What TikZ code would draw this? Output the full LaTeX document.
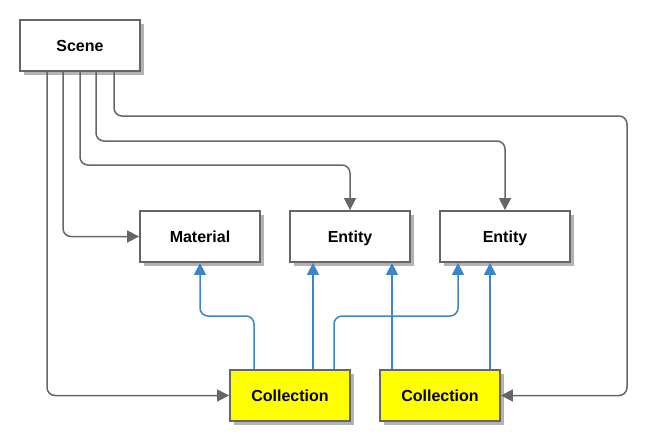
\documentclass[tikz,border=0pt]{standalone}
\usepackage{fontspec}
\setmainfont{Liberation Sans}
\usetikzlibrary{arrows.meta,shadows}
\definecolor{linegray}{HTML}{666666}
\definecolor{shadowgray}{HTML}{B3B3B3}
\definecolor{blueline}{HTML}{3D85C6}
\definecolor{boxyellow}{HTML}{FFFF00}
\tikzset{
  box/.style={draw=linegray, line width=1.8pt, fill=white, minimum width=120pt, minimum height=51pt,
    inner sep=0pt, text height=11.5pt, text depth=0pt, font=\fontsize{16}{19}\selectfont\bfseries,
    drop shadow={shadow xshift=4pt, shadow yshift=-4pt, fill=shadowgray, opacity=1}},
  coll/.style={box, fill=boxyellow},
  grayconn/.style={draw=linegray, line width=1.5pt, rounded corners=8pt,
    -{Triangle[length=12pt,width=12pt]}},
  blueconn/.style={draw=blueline, line width=1.5pt, rounded corners=8pt,
    -{Triangle[length=12pt,width=12pt]}},
}
\begin{document}
\begin{tikzpicture}[x=1pt,y=-1pt]
\useasboundingbox (0,0) rectangle (651,445);
\node[box] (scene) at (80,45.5) {Scene};
\node[box] (mat) at (200,236.5) {Material};
\node[box] (ent1) at (350,236.5) {Entity};
\node[box, minimum width=130pt] (ent2) at (505,236.5) {Entity};
\node[coll] (col1) at (290,395.5) {Collection};
\node[coll] (col2) at (440,395.5) {Collection};
% gray connectors from Scene
\draw[grayconn] (scene.south -| 47,0) |- (col1.west);
\draw[grayconn] (scene.south -| 63,0) |- (mat.west);
\draw[grayconn] (scene.south -| 80,0) |- (350,165) -- (ent1.north);
\draw[grayconn] (scene.south -| 96,0) |- (505,141) -- (ent2.north);
\draw[grayconn] (scene.south -| 114,0) |- (627,116) |- (col2.east);
% blue connectors
\draw[blueconn] (col1.north -| 254,0) |- (200,316) -- (mat.south);
\draw[blueconn] (col1.north -| 313,0) -- (ent1.south -| 313,0);
\draw[blueconn] (col1.north -| 334,0) |- (458,316) -- (ent2.south -| 458,0);
\draw[blueconn] (col2.north -| 392,0) -- (ent1.south -| 392,0);
\draw[blueconn] (col2.north -| 490,0) -- (ent2.south -| 490,0);
\end{tikzpicture}
\end{document}
